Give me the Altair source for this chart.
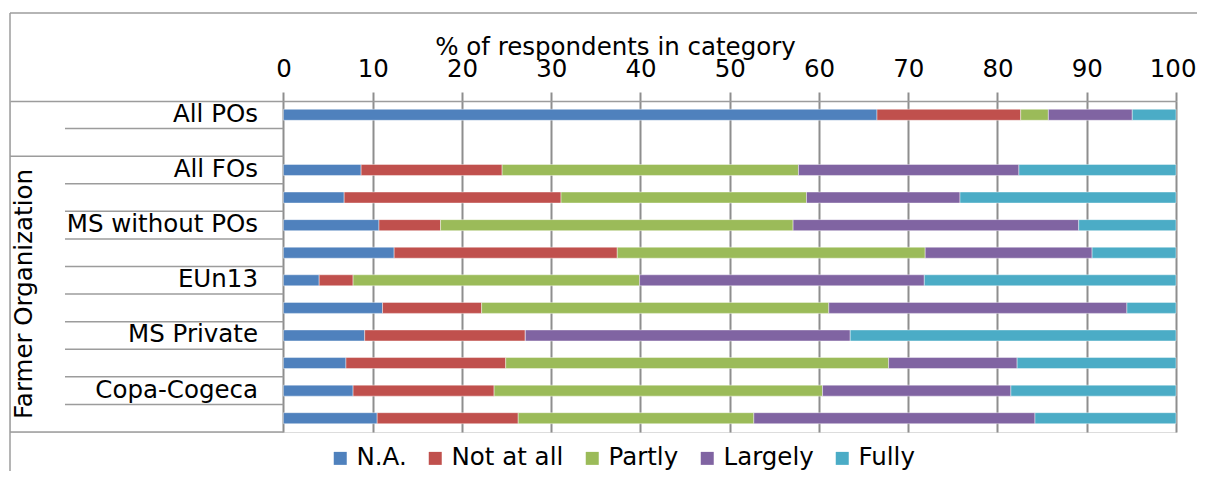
import altair as alt
import pandas as pd

# ---------------- data ----------------
slots = ["All POs", "PO blank", "All FOs", "FO row 4", "MS without POs", "FO row 6",
         "EUn13", "FO row 8", "MS Private", "FO row 10", "Copa-Cogeca", "FO row 12"]
shown_labels = ["All POs", "", "All FOs", "", "MS without POs", "",
                "EUn13", "", "MS Private", "", "Copa-Cogeca", ""]
bar_rows = ["All POs", "All FOs", "FO row 4", "MS without POs", "FO row 6",
            "EUn13", "FO row 8", "MS Private", "FO row 10", "Copa-Cogeca", "FO row 12"]
series = ["N.A.", "Not at all", "Partly", "Largely", "Fully"]
colors = ["#4F81BD", "#C0504D", "#9BBB59", "#8064A2", "#4BACC6"]
na = [66.5, 8.7, 6.8, 10.7, 12.4, 4.0, 11.1, 9.1, 7.0, 7.8, 10.5]
not_at_all = [16.1, 15.8, 24.3, 6.9, 25.0, 3.8, 11.1, 18.0, 17.9, 15.8, 15.8]
partly = [3.1, 33.2, 27.5, 39.5, 34.5, 32.1, 38.9, 0.0, 42.9, 36.8, 26.4]
largely = [9.4, 24.7, 17.2, 32.0, 18.7, 31.9, 33.4, 36.4, 14.4, 21.1, 31.5]
fully = [4.9, 17.6, 24.2, 10.9, 9.4, 28.2, 5.5, 36.5, 17.8, 18.5, 15.8]
group_label = "Farmer Organization"
x_title = "% of respondents in category"
x_ticks = [0, 10, 20, 30, 40, 50, 60, 70, 80, 90, 100]
# separators: short ones at the top of these slots, long (group) ones at top of group start
short_sep_slots = ["PO blank", "FO row 4", "MS without POs", "FO row 6", "EUn13",
                   "FO row 8", "MS Private", "FO row 10", "Copa-Cogeca", "FO row 12"]
group_start_slots = ["All FOs"]
last_slot = ["FO row 12"]

# ---------------- tables ----------------
vals = [na, not_at_all, partly, largely, fully]
rows = []
for si, (s, v) in enumerate(zip(series, vals)):
    for r, x in zip(bar_rows, v):
        rows.append({"slot": r, "series": s, "value": x, "order": si})
bars_df = pd.DataFrame(rows)
labels_df = pd.DataFrame({"slot": slots, "label": shown_labels})
labels_df = labels_df[labels_df["label"] != ""]
short_df = pd.DataFrame({"slot": short_sep_slots})
group_df = pd.DataFrame({"slot": group_start_slots})
last_df = pd.DataFrame({"slot": last_slot})
one = pd.DataFrame({"k": [0]})

FONT = "DejaVu Sans"
FS = 24.5
GRID = "#8e8e8e"
SEP = "#9c9c9c"

yscale = alt.Scale(domain=slots, paddingInner=0, paddingOuter=0)
xscale = alt.Scale(domain=[-30.64, 100], nice=False, zero=False)

bars = alt.Chart(bars_df).mark_bar(size=11, stroke="white", strokeWidth=0.6, strokeOpacity=0.7).encode(
    x=alt.X("value:Q", stack="zero", scale=xscale,
            axis=alt.Axis(orient="top", values=x_ticks, grid=True, gridColor=GRID, gridWidth=2,
                          ticks=True, tickSize=9, tickColor=GRID, tickWidth=2,
                          domainColor=SEP, domainWidth=1.5,
                          labelFont=FONT, labelFontSize=FS, labelColor="black",
                          labelPadding=16, labelBaseline="alphabetic",
                          labelFlush=True, labelFlushOffset=20, labelOverlap=False,
                          title=x_title, titleFont=FONT, titleFontSize=FS,
                          titleFontWeight="normal", titleColor="black",
                          titleX=605, titleY=-47, titleAlign="center",
                          titleBaseline="alphabetic")),
    y=alt.Y("slot:N", scale=yscale, axis=None),
    color=alt.Color("series:N", scale=alt.Scale(domain=series, range=colors),
                    legend=alt.Legend(orient="none", legendX=318, legendY=345,
                                      direction="horizontal", title=None,
                                      symbolType="square", symbolSize=169,
                                      symbolStrokeWidth=0, labelFont=FONT,
                                      labelFontSize=FS, labelColor="black",
                                      labelOffset=4, columnPadding=16)),
    order=alt.Order("order:Q"),
)

short_sep = alt.Chart(short_df).mark_rule(color=SEP, strokeWidth=1.5).encode(
    y=alt.Y("slot:N", scale=yscale, axis=None, bandPosition=0),
    x=alt.value(55), x2=alt.value(273.5),
)
group_sep = alt.Chart(group_df).mark_rule(color=SEP, strokeWidth=1.5).encode(
    y=alt.Y("slot:N", scale=yscale, axis=None, bandPosition=0),
    x=alt.value(0), x2=alt.value(273.5),
)
last_sep = alt.Chart(last_df).mark_rule(color=SEP, strokeWidth=1.5).encode(
    y=alt.Y("slot:N", scale=yscale, axis=None, bandPosition=1),
    x=alt.value(0), x2=alt.value(273.5),
)

labels = alt.Chart(labels_df).mark_text(align="right", baseline="middle", font=FONT,
                                         fontSize=FS, color="black").encode(
    y=alt.Y("slot:N", scale=yscale, axis=None),
    x=alt.value(248),
    text="label:N",
)

group_text = alt.Chart(pd.DataFrame({"label": [group_label]})).mark_text(
    angle=270, align="center", baseline="middle", font=FONT, fontSize=FS, color="black"
).encode(x=alt.value(15), y=alt.value(193), text="label:N")

border_top = alt.Chart(one).mark_rule(color=SEP, strokeWidth=1.5).encode(
    x=alt.value(0), x2=alt.value(1200), y=alt.value(-88))
border_left = alt.Chart(one).mark_rule(color=SEP, strokeWidth=1.5).encode(
    x=alt.value(0), y=alt.value(-88), y2=alt.value(400))

chart = alt.layer(bars, short_sep, group_sep, last_sep, labels, group_text,
                  border_top, border_left).properties(
    width=1166, height=331,
    autosize=alt.AutoSizeParams(type="none"),
    padding={"left": 2, "top": 93, "right": 21, "bottom": 39},
).configure_view(stroke=None).configure(font=FONT)

chart.save("out.html", embed_options={"renderer": "svg", "actions": False})
